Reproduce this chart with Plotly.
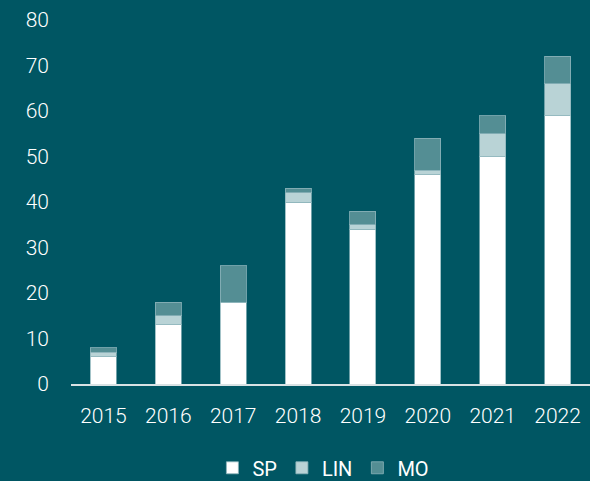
import plotly.graph_objects as go

years = ["2015", "2016", "2017", "2018", "2019", "2020", "2021", "2022"]
sp = [6, 13, 18, 40, 34, 46, 50, 59]
lin = [1, 2, 0, 2, 1, 1, 5, 7]
mo = [1, 3, 8, 1, 3, 7, 4, 6]
y_ticks = [0, 10, 20, 30, 40, 50, 60, 70, 80]

bg = "#005663"
fig = go.Figure()
for name, vals, col in [("SP", sp, "#ffffff"), ("LIN", lin, "#b9d3d6"), ("MO", mo, "#548e94")]:
    fig.add_trace(go.Bar(
        x=years, y=vals, name=name,
        marker=dict(color=col, line=dict(color="rgba(140,180,186,0.8)", width=1)),
    ))

fig.update_layout(
    width=590, height=481,
    barmode="stack", bargap=0.6,
    paper_bgcolor=bg, plot_bgcolor=bg,
    margin=dict(l=71, r=0, t=20, b=97),
    font=dict(family="Roboto, sans-serif", color="#ffffff", size=21, weight=300),
    showlegend=True,
    legend=dict(orientation="h", xref="container", yref="container",
                x=0.36, xanchor="left", y=0.068, yanchor="top",
                font=dict(size=20, color="#ffffff", weight=400), traceorder="normal",
                itemwidth=30, tracegroupgap=0),
    xaxis=dict(showgrid=False, showline=True, linecolor="#d9e2e4", linewidth=2,
               ticks="", ticklabelstandoff=12,
               tickfont=dict(size=21, color="#ffffff", weight=300)),
    yaxis=dict(range=[0, 80], tickvals=y_ticks, showgrid=False, zeroline=False,
               showline=False, ticks="", ticklabelstandoff=21,
               tickfont=dict(size=21, color="#ffffff", weight=300)),
)

fig.write_html("out.html", config={"displayModeBar": False},
               post_script="document.body.style.margin='0';document.body.style.padding='0';")
